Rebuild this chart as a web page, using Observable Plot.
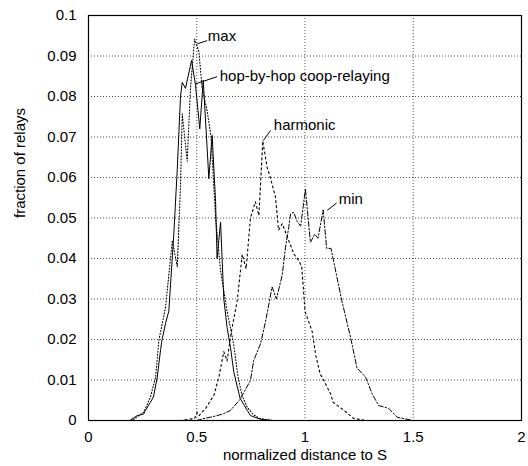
<!DOCTYPE html>
<html><head><meta charset="utf-8">
<script src="https://cdn.jsdelivr.net/npm/d3@7"></script>
<script src="https://cdn.jsdelivr.net/npm/@observablehq/plot@0.6"></script>
<style>body{margin:0;background:#fff} svg{font-family:"Liberation Sans",Arial,Helvetica,sans-serif}</style>
</head><body><div id="chart"></div>
<script>
// hop-by-hop coop-relaying (solid)
const hopX = [0,0.17,0.19,0.225,0.255,0.263,0.286,0.30,0.317,0.333,0.34,0.356,0.371,0.394,0.41,0.425,0.433,0.448,0.476,0.494,0.514,0.53,0.556,0.571,0.587,0.594,0.61,0.625,0.64,0.656,0.671,0.70,0.733,0.748,0.795,0.85,1.0];
const hopY = [0,0,0,0.0012,0.0016,0.0025,0.0045,0.0058,0.0105,0.0175,0.020,0.024,0.027,0.046,0.062,0.080,0.0835,0.082,0.0889,0.0830,0.072,0.084,0.0597,0.0704,0.054,0.040,0.049,0.030,0.023,0.018,0.012,0.0055,0.0025,0.0012,0.0003,0,0];
// max (fine dotted)
const maxX = [0,0.2,0.255,0.286,0.31,0.325,0.356,0.387,0.41,0.425,0.433,0.456,0.471,0.49,0.51,0.525,0.548,0.566,0.587,0.61,0.64,0.67,0.69,0.71,0.733,0.76,0.79,0.85,1.0];
const maxY = [0,0,0.002,0.0058,0.0107,0.0198,0.028,0.0444,0.038,0.058,0.0757,0.064,0.082,0.0942,0.091,0.082,0.0765,0.070,0.050,0.037,0.027,0.019,0.011,0.006,0.0033,0.0015,0.0005,0,0];
// harmonic (dotted)
const harX = [0.40,0.425,0.49,0.502,0.51,0.54,0.579,0.602,0.625,0.64,0.66,0.687,0.71,0.728,0.748,0.771,0.787,0.805,0.825,0.84,0.864,0.878,0.895,0.925,0.95,0.971,0.985,1.0,1.033,1.05,1.07,1.087,1.118,1.13,1.18,1.225,1.28,1.4];
const harY = [0,0,0.0005,0.002,0.0012,0.0029,0.0062,0.0107,0.017,0.0147,0.022,0.0296,0.041,0.0375,0.050,0.054,0.0506,0.069,0.0625,0.060,0.055,0.047,0.0486,0.0444,0.041,0.0395,0.038,0.027,0.022,0.016,0.0115,0.0099,0.0066,0.0045,0.0025,0.0005,0,0];
// min (dash-dot)
const minX = [0.45,0.5,0.52,0.594,0.625,0.656,0.70,0.748,0.763,0.795,0.82,0.848,0.868,0.895,0.91,0.925,0.933,0.948,0.965,0.98,1.002,1.025,1.045,1.06,1.084,1.10,1.12,1.17,1.21,1.24,1.28,1.31,1.34,1.386,1.426,1.5,1.6];
const minY = [0,0,0.0003,0.0012,0.0017,0.0025,0.0052,0.0099,0.0148,0.019,0.025,0.033,0.030,0.036,0.0428,0.0477,0.051,0.0514,0.049,0.048,0.0572,0.044,0.046,0.045,0.052,0.0425,0.0425,0.0296,0.0206,0.013,0.0107,0.0066,0.0037,0.003,0.0008,0,0];

const xTicks = [0,0.5,1,1.5,2];
const xTickLabels = ["0","0.5","1","1.5","2"];
const yTicks = [0,0.01,0.02,0.03,0.04,0.05,0.06,0.07,0.08,0.09,0.1];
const yTickLabels = ["0","0.01","0.02","0.03","0.04","0.05","0.06","0.07","0.08","0.09","0.1"];

const labelNames = ["max","hop-by-hop coop-relaying","harmonic","min"];
const labelX = [0.551,0.606,0.856,1.156];
const labelY = [0.0948,0.0849,0.0728,0.0547];
const leadX1 = [0.502,0.494,0.807,1.103];
const leadY1 = [0.0930,0.0831,0.0691,0.0519];
const leadX2 = [0.548,0.594,0.841,1.146];
const leadY2 = [0.0938,0.0849,0.0716,0.0537];

const mk = (xs, ys) => xs.map((x, i) => ({x, y: ys[i]}));
const hop = mk(hopX, hopY), mx = mk(maxX, maxY), har = mk(harX, harY), mn = mk(minX, minY);
const labels = labelNames.map((t, i) => ({t, x: labelX[i], y: labelY[i], x1: leadX1[i], y1: leadY1[i], x2: leadX2[i], y2: leadY2[i]}));

const chart = Plot.plot({
  width: 528, height: 466,
  marginLeft: 88, marginRight: 7, marginTop: 15, marginBottom: 46,
  style: {fontFamily: '"Liberation Sans", Arial, Helvetica, sans-serif', background: "#fff", color: "#000"},
  x: {domain: [0, 2]},
  y: {domain: [0, 0.1]},
  marks: [
    Plot.gridX(xTicks.slice(1, -1), {stroke: "#000", strokeOpacity: 0.7, strokeDasharray: "1,2"}),
    Plot.gridY(yTicks.slice(1, -1), {stroke: "#000", strokeOpacity: 0.7, strokeDasharray: "1,2"}),
    Plot.axisX({ticks: xTicks, tickFormat: (d) => xTickLabels[xTicks.indexOf(d)], tickSize: 0, tickPadding: 11, fontSize: 15, label: null}),
    Plot.axisY({ticks: yTicks, tickFormat: (d) => yTickLabels[yTicks.indexOf(d)], tickSize: 0, tickPadding: 12, fontSize: 15, label: null}),
    Plot.line(hop, {x: "x", y: "y", stroke: "#000", strokeWidth: 1}),
    Plot.line(mx, {x: "x", y: "y", stroke: "#000", strokeWidth: 1.1, strokeDasharray: "1,2"}),
    Plot.line(har, {x: "x", y: "y", stroke: "#000", strokeWidth: 1.1, strokeDasharray: "2,3"}),
    Plot.line(mn, {x: "x", y: "y", stroke: "#000", strokeWidth: 1, strokeDasharray: "5,2,1.5,2"}),
    Plot.link(labels, {x1: "x1", y1: "y1", x2: "x2", y2: "y2", stroke: "#000", strokeWidth: 1}),
    Plot.text(labels, {x: "x", y: "y", text: "t", textAnchor: "start", lineAnchor: "middle", fontSize: 15, fill: "#000"}),
    Plot.frame({stroke: "#000", strokeWidth: 1.2}),
    Plot.text(["normalized distance to S"], {frameAnchor: "bottom", dy: 39, fontSize: 15, fill: "#000", style: "word-spacing:-2px"}),
    Plot.text(["fraction of relays"], {frameAnchor: "left", dx: -68, rotate: -90, fontSize: 15, fill: "#000", style: "word-spacing:-3px"})
  ]
});
document.getElementById("chart").appendChild(chart);
</script>
</body></html>
